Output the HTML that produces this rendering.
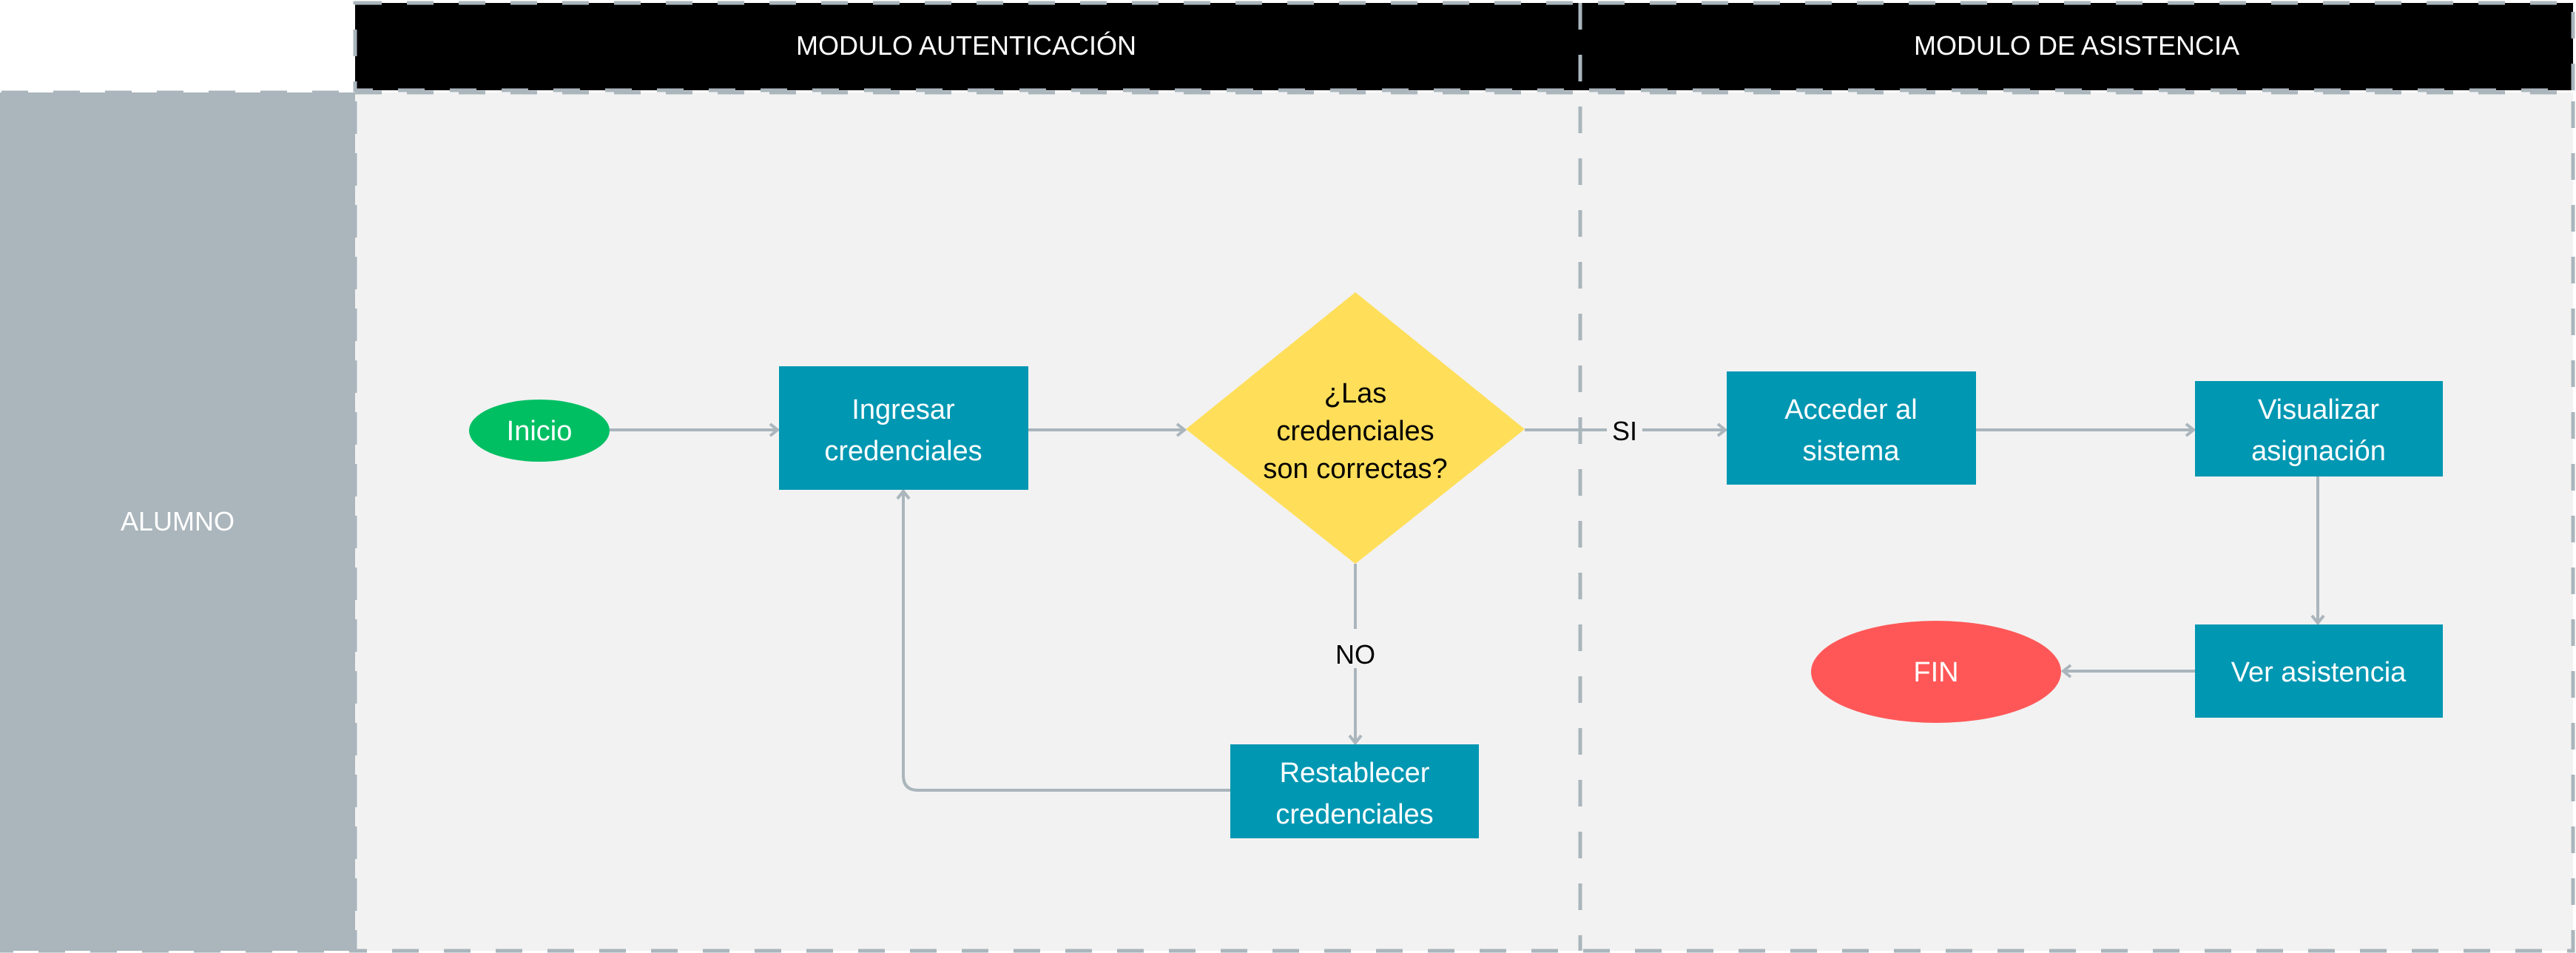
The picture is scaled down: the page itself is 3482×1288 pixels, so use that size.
<!DOCTYPE html>
<html><head><meta charset="utf-8"><style>
html,body{margin:0;padding:0;background:#fff;}
svg{display:block;}
text{font-family:"Liberation Sans",sans-serif;}
</style></head><body>
<svg width="3482" height="1288" viewBox="0 0 3482 1288" xmlns="http://www.w3.org/2000/svg">
<defs>
<marker id="ar" markerWidth="20" markerHeight="20" refX="15" refY="10" orient="auto" markerUnits="userSpaceOnUse">
<path d="M5,2 L15,10 L5,18" fill="none" stroke="#aab5bc" stroke-width="4"/>
</marker>
</defs>
<rect x="480" y="4" width="2998" height="118" fill="#000"/>
<rect x="0" y="125" width="480" height="1160" fill="#aab5bc"/>
<rect x="480" y="125" width="2998" height="1160" fill="#f2f2f2"/>
<g fill="none" stroke="#aab5bc" stroke-width="5" stroke-dasharray="36 34">
<rect x="480" y="4" width="2998" height="118"/>
<rect x="2" y="125" width="478" height="1160"/>
<rect x="480" y="125" width="2998" height="1160"/>
<line x1="2136" y1="4" x2="2136" y2="1285"/>
</g>
<text x="1306" y="74" font-size="36" fill="#fff" text-anchor="middle">MODULO AUTENTICACIÓN</text>
<text x="2807" y="74" font-size="36" fill="#fff" text-anchor="middle">MODULO DE ASISTENCIA</text>
<text x="240" y="717" font-size="36" fill="#fff" text-anchor="middle">ALUMNO</text>

<g fill="none" stroke="#aab5bc" stroke-width="4">
<line x1="824" y1="581" x2="1051" y2="581" marker-end="url(#ar)"/>
<line x1="1390" y1="581" x2="1601" y2="581" marker-end="url(#ar)"/>
<line x1="2061" y1="581" x2="2172" y2="581"/>
<line x1="2220" y1="581" x2="2332" y2="581" marker-end="url(#ar)"/>
<line x1="2671" y1="581" x2="2965" y2="581" marker-end="url(#ar)"/>
<line x1="1832" y1="762" x2="1832" y2="850"/>
<line x1="1832" y1="903" x2="1832" y2="1004" marker-end="url(#ar)"/>
<path d="M1663,1068 L1241,1068 Q1221,1068 1221,1048 L1221,664" marker-end="url(#ar)"/>
<line x1="3133" y1="644" x2="3133" y2="842" marker-end="url(#ar)"/>
<line x1="2967" y1="907" x2="2789" y2="907" marker-end="url(#ar)"/>
</g>

<ellipse cx="729" cy="582" rx="95" ry="42" fill="#00bf63"/>
<text x="729" y="595" font-size="38" fill="#fff" text-anchor="middle">Inicio</text>

<rect x="1053" y="495" width="337" height="167" fill="#0097b2"/>
<text x="1221" y="566" font-size="38" fill="#fff" text-anchor="middle">Ingresar</text>
<text x="1221" y="622" font-size="38" fill="#fff" text-anchor="middle">credenciales</text>

<polygon points="1832,395 2061,580 1832,762 1603,580" fill="#ffde59"/>
<text x="1832" y="544" font-size="38" fill="#000" text-anchor="middle">¿Las</text>
<text x="1832" y="595" font-size="38" fill="#000" text-anchor="middle">credenciales</text>
<text x="1832" y="646" font-size="38" fill="#000" text-anchor="middle">son correctas?</text>

<text x="2196" y="595" font-size="36" fill="#000" text-anchor="middle">SI</text>
<text x="1832" y="897" font-size="36" fill="#000" text-anchor="middle">NO</text>

<rect x="1663" y="1006" width="336" height="127" fill="#0097b2"/>
<text x="1831" y="1057" font-size="38" fill="#fff" text-anchor="middle">Restablecer</text>
<text x="1831" y="1113" font-size="38" fill="#fff" text-anchor="middle">credenciales</text>

<rect x="2334" y="502" width="337" height="153" fill="#0097b2"/>
<text x="2502" y="566" font-size="38" fill="#fff" text-anchor="middle">Acceder al</text>
<text x="2502" y="622" font-size="38" fill="#fff" text-anchor="middle">sistema</text>

<rect x="2967" y="515" width="335" height="129" fill="#0097b2"/>
<text x="3134" y="566" font-size="38" fill="#fff" text-anchor="middle">Visualizar</text>
<text x="3134" y="622" font-size="38" fill="#fff" text-anchor="middle">asignación</text>

<rect x="2967" y="844" width="335" height="126" fill="#0097b2"/>
<text x="3134" y="921" font-size="38" fill="#fff" text-anchor="middle">Ver asistencia</text>

<ellipse cx="2617" cy="908" rx="169" ry="69" fill="#ff5757"/>
<text x="2617" y="921" font-size="38" fill="#fff" text-anchor="middle">FIN</text>
</svg>
</body></html>
